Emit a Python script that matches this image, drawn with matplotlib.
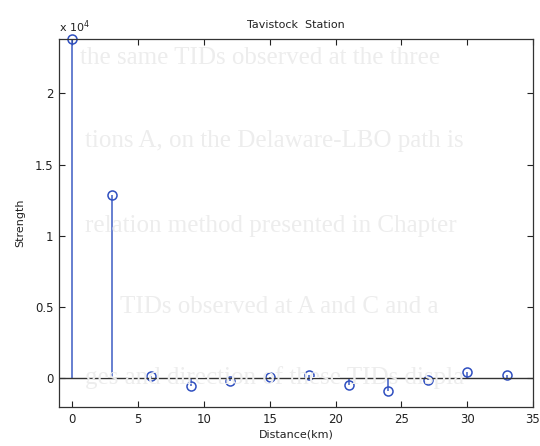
import matplotlib
matplotlib.use("Agg")
import matplotlib.pyplot as plt
from matplotlib.ticker import FuncFormatter

# Stem data: strength versus distance
distance_km = [0, 3, 6, 9, 12, 15, 18, 21, 24, 27, 30, 33]
strength = [23800, 12860, 140, -510, -190, 80, 220, -450, -900, -120, 480, 250]

x_ticks = [0, 5, 10, 15, 20, 25, 30, 35]
y_ticks = [0, 5000, 10000, 15000, 20000]

# Faint lines of the page printed on the reverse side (x px, y px, text)
page_lines = [
    (80, 58, "the same TIDs observed at the three"),
    (85, 141, "tions A, on the Delaware-LBO path is"),
    (85, 226, "relation method presented in Chapter"),
    (120, 307, "TIDs observed at A and C and a"),
    (85, 378, "ges and direction of these TIDs displa"),
]

W, H = 540, 446
fig = plt.figure(figsize=(W / 100, H / 100), dpi=100)
for px, py, txt in page_lines:
    fig.text(px / W, 1 - py / H, txt, family="Liberation Serif", fontsize=18,
             color="#ededed", ha="left", va="center", zorder=0)

ax = fig.add_axes([59 / W, 1 - 407 / H, (533 - 59) / W, (407 - 39) / H])
ax.patch.set_alpha(0)

blue = "#3d5cc4"
markerline, stemlines, baseline = ax.stem(distance_km, strength, basefmt="k-")
plt.setp(stemlines, color=blue, linewidth=1.1)
plt.setp(markerline, marker="o", markersize=6.5, markerfacecolor="none",
         markeredgecolor="#2f4fc0", markeredgewidth=1.1, clip_on=False)
plt.setp(baseline, color="#333333", linewidth=1.0)
baseline.set_xdata([-1, 35])

ax.set_xlim(-1, 35)
ax.set_ylim(-2000, 23800)
ax.set_xticks(x_ticks)
ax.set_yticks(y_ticks)
ax.yaxis.set_major_formatter(FuncFormatter(lambda v, p: f"{v / 1e4:g}"))
ax.tick_params(direction="in", length=4, width=0.8, labelsize=8.5,
               top=True, right=True, colors="#222222", pad=4)
for s in ax.spines.values():
    s.set_color("#333333")
    s.set_linewidth(0.9)

ax.text(0.0, 1.012, r"x 10$^4$", transform=ax.transAxes, fontsize=8,
        ha="left", va="bottom", color="#222222")
ax.set_title("Tavistock  Station", fontsize=8, color="#222222", pad=8)
ax.set_xlabel("Distance(km)", fontsize=8, color="#222222", labelpad=3)
ax.set_ylabel("Strength", fontsize=8, color="#222222", labelpad=7)

fig.savefig("out.png", dpi=100)
